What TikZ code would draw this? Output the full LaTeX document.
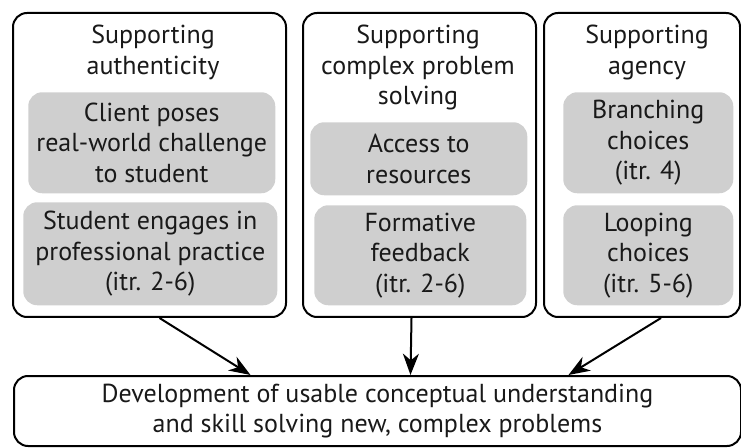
\documentclass[tikz,border=0pt]{standalone}
\usepackage{fontspec}
\setmainfont{PT Sans}
\usetikzlibrary{arrows.meta,positioning}
\newdimen\px \px=0.75pt
\tikzstyle{group} = [draw=black, line width=1.5pt, rounded corners=10.5pt, anchor=north west, inner sep=0pt]
\tikzstyle{item} = [fill=black!19, rounded corners=10.5pt, align=center, anchor=north west, inner sep=0pt]
\tikzstyle{head} = [align=center, anchor=north, inner sep=0pt]
\tikzstyle{link} = [line width=1.5pt, -{Stealth[length=16pt, width=12pt, inset=5pt]}]

\begin{document}
\begin{tikzpicture}[x=\px, y=-\px, font=\fontsize{19.5}{22.8}\selectfont, text=black!90]
			\useasboundingbox (0,0) rectangle (741,448);
			% three groups of support
			\node [group, minimum width=273\px, minimum height=304\px] (auth) at (12,12) {};
			\node [group, minimum width=233\px, minimum height=304\px] (cps) at (302,12) {};
			\node [group, minimum width=196\px, minimum height=304\px] (agen) at (543,12) {};
			\node [head] (authT) at (153,25) {Supporting\\authenticity};
			\node [head] (cpsT) at (418,25) {Supporting\\complex problem\\solving};
			\node [head] (agenT) at (647,25) {Supporting\\agency};
			% grey items
			\node [item, minimum width=247\px, minimum height=101\px] (client) at (28,92) {Client poses\\real-world challenge\\to student};
			\node [item, minimum width=254\px, minimum height=103\px] (engage) at (23,202) {Student engages in\\professional practice\\(itr. 2-6)};
			\node [item, minimum width=217\px, minimum height=73\px] (access) at (310,122) {Access to\\resources};
			\node [item, minimum width=212\px, minimum height=100\px] (feedback) at (314,205) {Formative\\feedback\\(itr. 2-6)};
			\node [item, minimum width=170\px, minimum height=101\px] (branch) at (563,92) {Branching\\choices\\(itr. 4)};
			\node [item, minimum width=170\px, minimum height=100\px] (loop) at (563,205) {Looping\\choices\\(itr. 5-6)};
			% outcome
			\node [group, align=center, minimum width=727\px, minimum height=70\px] (result) at (13,375) {Development of usable conceptual understanding\\and skill solving new, complex problems};
			\draw [link] ([xshift=10\px]auth.south) -- ([xshift=-127\px]result.north);
			\draw [link] ([xshift=-8\px]cps.south) -- ([xshift=33\px]result.north);
			\draw [link] ([xshift=19\px]agen.south) -- ([xshift=191\px]result.north);
		\end{tikzpicture}
\end{document}
